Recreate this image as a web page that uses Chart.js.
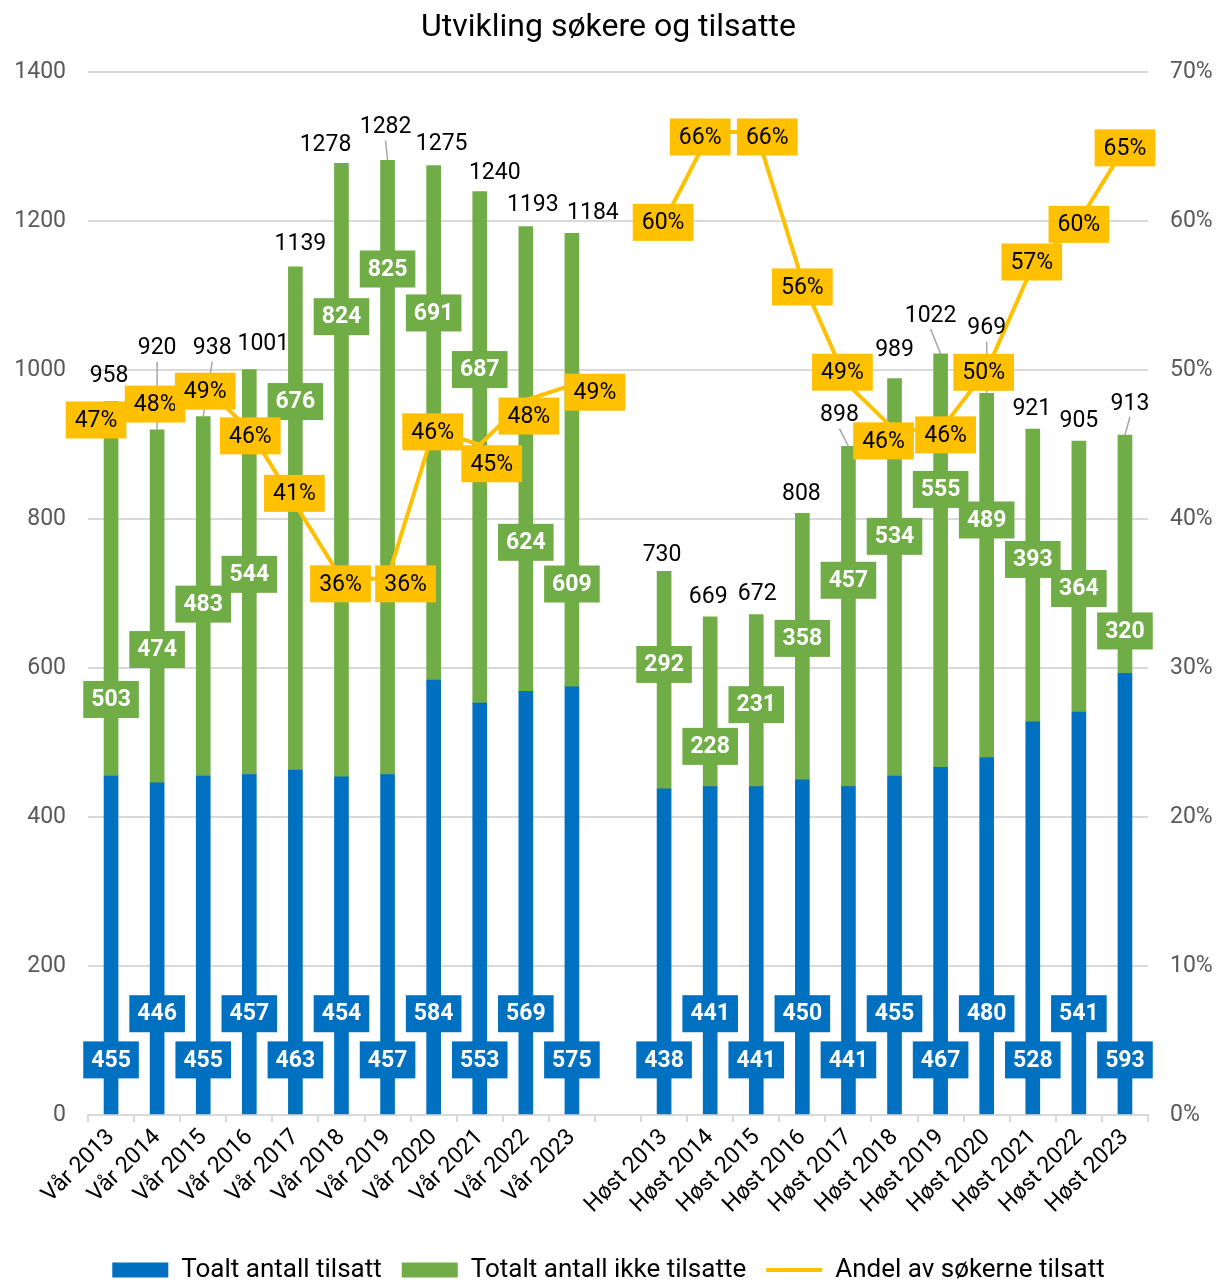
<!DOCTYPE html>
<html>
<head>
<meta charset="utf-8">
<script src="https://cdn.jsdelivr.net/npm/chart.js@4.4.1/dist/chart.umd.min.js"></script>
<style>
html,body{margin:0;padding:0;background:#fff}
</style>
</head>
<body>
<canvas id="grafSokere" width="1217" height="1283"></canvas>
<script>
// data lest av figuren
const kategorierVaar=["Vår 2013","Vår 2014","Vår 2015","Vår 2016","Vår 2017","Vår 2018","Vår 2019","Vår 2020","Vår 2021","Vår 2022","Vår 2023"]
const kategorierHost=["Høst 2013","Høst 2014","Høst 2015","Høst 2016","Høst 2017","Høst 2018","Høst 2019","Høst 2020","Høst 2021","Høst 2022","Høst 2023"]

const tilsattVaar=[455,446,455,457,463,454,457,584,553,569,575]
const tilsattHost=[438,441,441,450,441,455,467,480,528,541,593]

const ikkeTilsattVaar=[503,474,483,544,676,824,825,691,687,624,609]
const ikkeTilsattHost=[292,228,231,358,457,534,555,489,393,364,320]

const andelVaar=[47,48,49,46,41,36,36,46,45,48,49]
const andelHost=[60,66,66,56,49,46,46,50,57,60,65]

const venstreTicks=[0,200,400,600,800,1000,1200,1400]
const hoyreTicks=[0,10,20,30,40,50,60,70]

// plassering av etikettene, som i originalen
const gronnEtikettNivaa=[558,625,686,726,958,1072,1136,1077,1001,769,713, null, 605,495,551,640,718,777,840,799,746,707,650]
const sumEtikettNivaa=[992,1029,1029,1035,1169,1302,1326,1303,1265,1221,1211, null, 752,695,699,833,939,1027,1073,1056,948,932,955]
const sumEtikettDx=[-2,0,9,14,5,-16,-2,8,15,7,21, 0, -2,-2,1,-1,-9,0,-10,0,-1,0,5]
const andelEtikettDx=[-15,-2,2,1,-1,-1,18,-1,12,3,23, 0, -1,-10,11,0,-6,-11,5,-3,-1,0,0]
const andelEtikettDy=[5,4,6,6,-11,5,5,2,19,16,7, 0, 1,5,5,6,-13,11,5,2,-4,3,1]

// tom kategori mellom vår og høst
const kategorier=[...kategorierVaar,"",...kategorierHost]
const tilsatt=[...tilsattVaar,null,...tilsattHost]
const ikkeTilsatt=[...ikkeTilsattVaar,null,...ikkeTilsattHost]
const andel=[...andelVaar,null,...andelHost]

const BLA="#0070C0", GRONN="#70AD47", GUL="#FFC000"
const FONT="Roboto"

function boks(ctx,tekst,x,y,bg,fg,bold){
ctx.font=(bold?"bold ":"")+"23px "+FONT
const w=ctx.measureText(tekst).width+(bold?16:18)
const h=37
ctx.fillStyle=bg
ctx.fillRect(x-w/2,y-h/2,w,h)
ctx.fillStyle=fg
ctx.textAlign="center"
ctx.textBaseline="middle"
ctx.fillText(tekst,x,y+1)
}

const etiketter={
id:"etiketter",
afterDatasetsDraw(chart){
const ctx=chart.ctx
const y=chart.scales.y
const blaa=chart.getDatasetMeta(0).data
const linje=chart.getDatasetMeta(2).data
ctx.save()

for(let i=0;i<kategorier.length;i++){
if(tilsatt[i]==null) continue
const x=blaa[i].x
// blå etiketter, annenhver høy/lav
const nivaa=(i%2===0)?74:136
boks(ctx,String(tilsatt[i]),x,y.getPixelForValue(nivaa),BLA,"#fff",true)
// grønne etiketter
boks(ctx,String(ikkeTilsatt[i]),x,y.getPixelForValue(gronnEtikettNivaa[i]),GRONN,"#fff",true)
}

// summer over søylene
ctx.font="23px "+FONT
ctx.textAlign="center"
ctx.textBaseline="middle"
for(let i=0;i<kategorier.length;i++){
if(tilsatt[i]==null) continue
const sum=tilsatt[i]+ikkeTilsatt[i]
const x=blaa[i].x
const topp=y.getPixelForValue(sum)
const lx=x+sumEtikettDx[i]
const ly=y.getPixelForValue(sumEtikettNivaa[i])
if(topp-ly>=29.5){
ctx.strokeStyle="#a6a6a6"
ctx.lineWidth=1.5
ctx.beginPath()
ctx.moveTo(lx,ly+13)
ctx.lineTo(x,topp)
ctx.stroke()
}
ctx.fillStyle="#000"
ctx.fillText(String(sum),lx,ly)
}

// prosent
for(let i=0;i<kategorier.length;i++){
if(andel[i]==null) continue
const p=linje[i]
boks(ctx,andel[i]+"%",p.x+andelEtikettDx[i],p.y+andelEtikettDy[i],GUL,"#000",false)
}
ctx.restore()
}
}

let grafico=new Chart(document.getElementById("grafSokere"),{
type:"bar",
data:{
labels:kategorier,
datasets:[
{
label:"Toalt antall tilsatt",
data:tilsatt,
backgroundColor:BLA,
stack:"a",
barThickness:14,
pointStyle:"rect"
},
{
label:"Totalt antall ikke tilsatte",
data:ikkeTilsatt,
backgroundColor:GRONN,
stack:"a",
barThickness:14,
pointStyle:"rect"
},
{
type:"line",
label:"Andel av søkerne tilsatt",
data:andel,
yAxisID:"y1",
borderColor:GUL,
backgroundColor:GUL,
borderWidth:4,
pointRadius:0,
pointStyle:"line",
spanGaps:false,
tension:0,
order:-1
}
]
},
options:{
responsive:false,
animation:false,
layout:{padding:{top:0,left:0,right:0,bottom:-10}},
plugins:{
title:{
display:true,
text:"Utvikling søkere og tilsatte",
color:"#000",
font:{family:FONT,size:32,weight:"normal"},
padding:{top:9,bottom:25}
},
legend:{
position:"bottom",
labels:{
color:"#000",
font:{family:FONT,size:26},
usePointStyle:true,
pointStyleWidth:56,
boxHeight:15,
padding:20,
sort:(a,b)=>a.datasetIndex-b.datasetIndex
}
},
tooltip:{enabled:false}
},
scales:{
x:{
stacked:true,
grid:{drawOnChartArea:false,drawTicks:true,tickLength:7,color:"#d9d9d9",lineWidth:2},
border:{color:"#d9d9d9",width:2},
ticks:{
color:"#000",
font:{family:FONT,size:23},
minRotation:45,
maxRotation:45,
autoSkip:false,
padding:2
},
afterFit:s=>{s.height=122}
},
y:{
stacked:true,
min:0,
max:1400,
afterBuildTicks:s=>{s.ticks=venstreTicks.map(v=>({value:v}))},
grid:{color:"#d9d9d9",lineWidth:2,drawTicks:false},
border:{display:false},
ticks:{color:"#595959",font:{family:FONT,size:23},padding:22,callback:v=>String(v)},
afterFit:s=>{s.width=88}
},
y1:{
position:"right",
min:0,
max:70,
afterBuildTicks:s=>{s.ticks=hoyreTicks.map(v=>({value:v}))},
grid:{drawOnChartArea:false,drawTicks:false},
border:{display:false},
ticks:{color:"#595959",font:{family:FONT,size:23},padding:22,callback:v=>v+"%"},
afterFit:s=>{s.width=69}
}
}
},
plugins:[etiketter]
})
</script>
</body>
</html>
